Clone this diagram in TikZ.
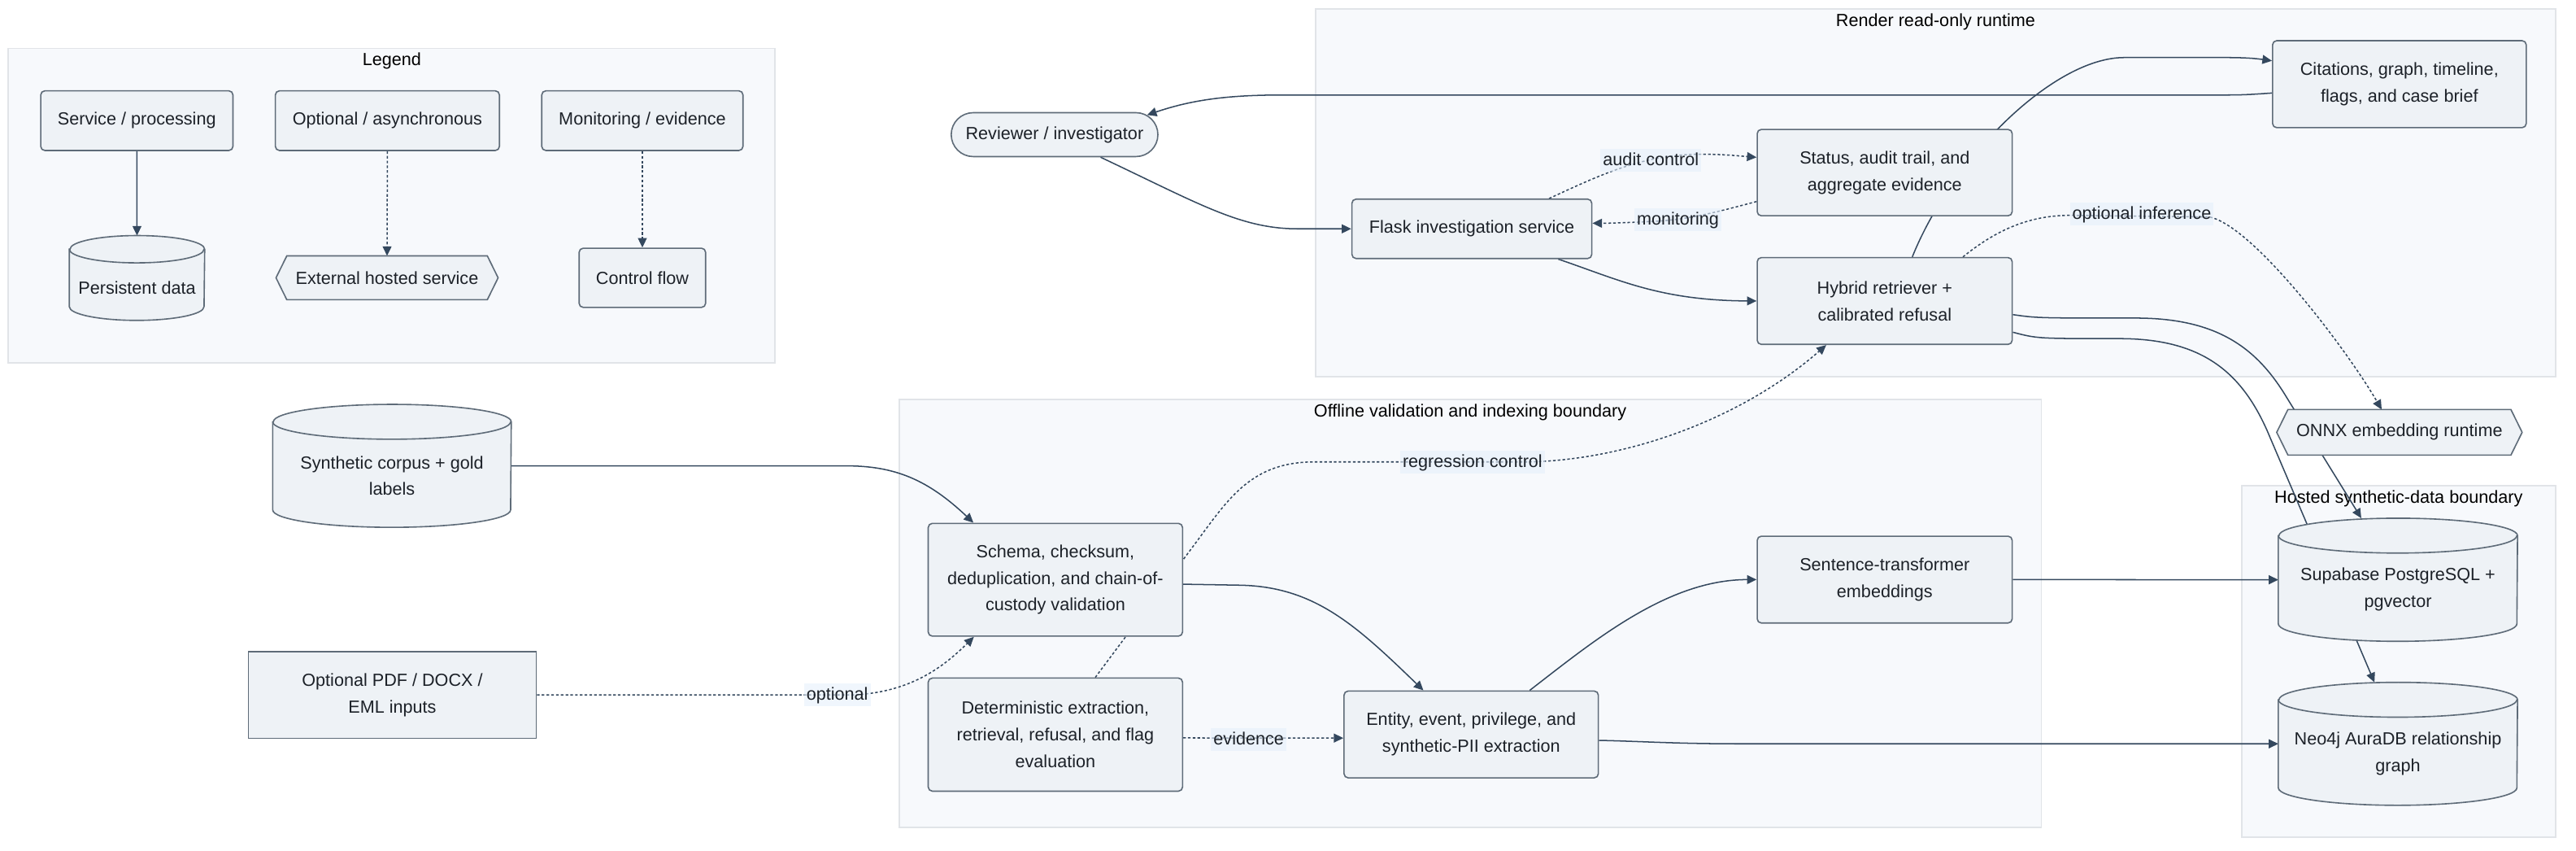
\documentclass[tikz,border=0pt]{standalone}
\usepackage{fontspec}
\setmainfont{Liberation Sans}
\usetikzlibrary{arrows.meta,shapes.misc,calc}
\definecolor{nodefill}{HTML}{EEF2F6}
\definecolor{nodestroke}{HTML}{5E6B78}
\definecolor{edgecol}{HTML}{34485E}
\definecolor{clusterfill}{HTML}{F7F9FC}
\definecolor{clusterstroke}{HTML}{E1E4E8}
\definecolor{labelbg}{HTML}{E6F0FB}
\definecolor{txtcol}{HTML}{1C2128}
\pgfdeclarelayer{bglayer}
\pgfdeclarelayer{edgelayer}
\pgfsetlayers{bglayer,edgelayer,main}
\tikzset{
  nodetext/.style={align=center, text=txtcol, font=\fontsize{10.7pt}{16.2pt}\selectfont, inner sep=0pt},
  box/.style={nodetext, rectangle, rounded corners=2.5pt, draw=nodestroke, fill=nodefill, line width=0.8pt},
  sqbox/.style={nodetext, rectangle, draw=nodestroke, fill=nodefill, line width=0.8pt},
  pill/.style={nodetext, rounded rectangle, draw=nodestroke, fill=nodefill, line width=0.8pt},
  cylshape/.style={draw=nodestroke, fill=nodefill, line width=0.8pt},
  cylline/.style={draw=nodestroke, line width=0.8pt},
  hexshape/.style={draw=nodestroke, fill=nodefill, line width=0.8pt},
  conn/.style={draw=edgecol, line width=0.75pt},
  dotconn/.style={conn, dash pattern=on 1.6pt off 1.3pt},
  arr/.style={-{Triangle[length=5.8pt,width=5.4pt]}},
  elabel/.style={nodetext, fill=labelbg, fill opacity=0.6, text opacity=1, inner xsep=1.5pt, inner ysep=1pt, text height=9.2pt, text depth=2.6pt},
  cluster/.style={draw=clusterstroke, fill=clusterfill, line width=0.8pt},
  ctitle/.style={nodetext, text=black, text height=9.2pt, text depth=2.6pt},
}
\newcommand\dbcyl[7]{%
  \node[inner sep=0pt, minimum width=#4pt, minimum height=#5pt] (#1) at (#2,#3) {};
  \path[cylshape] ([yshift=-#6pt]#1.north west) -- ([yshift=#6pt]#1.south west)
     arc[start angle=180, end angle=360, x radius=#4pt/2, y radius=#6pt]
     -- ([yshift=-#6pt]#1.north east)
     arc[start angle=0, end angle=180, x radius=#4pt/2, y radius=#6pt] -- cycle;
  \draw[cylline] ([yshift=-#6pt]#1.north west) arc[start angle=180, end angle=360, x radius=#4pt/2, y radius=#6pt];
  \node[nodetext] (#1-text) at ([yshift=-6pt]#1.center) {#7};
}
\newcommand\hexnode[6]{%
  \node[inner sep=0pt, minimum width=#4pt, minimum height=#5pt] (#1) at (#2,#3) {};
  \path[hexshape] (#1.west) -- ([xshift=#5pt/4]#1.north west) -- ([xshift=-#5pt/4]#1.north east)
     -- (#1.east) -- ([xshift=-#5pt/4]#1.south east) -- ([xshift=#5pt/4]#1.south west) -- cycle;
  \node[nodetext] (#1-text) at (#1.center) {#6};
}
\begin{document}
\begin{tikzpicture}[x=1pt,y=1pt]
\useasboundingbox (0,0) rectangle (1568,-517.7);

% clusters
\begin{pgfonlayer}{bglayer}
\draw[cluster] (5.1,-29.4) rectangle (471.8,-220.8);
\node[ctitle] (t-legend) at (238.5,-36.3) {Legend};
\draw[cluster] (800.9,-5.3) rectangle (1555.5,-229.3);
\node[ctitle] (t-render) at (1178.2,-12.9) {Render read-only runtime};
\draw[cluster] (547.3,-243) rectangle (1242.5,-503.5);
\node[ctitle] (t-offline) at (894.9,-250.3) {Offline validation and indexing boundary};
\draw[cluster] (1364.7,-295.6) rectangle (1555.5,-509.3);
\node[ctitle] (t-hosted) at (1460,-303) {Hosted synthetic-data boundary};
\end{pgfonlayer}

% legend nodes
\node[box, minimum width=117pt, minimum height=36.3pt] (svc) at (83.3,-73.4) {Service / processing};
\node[box, minimum width=136.4pt, minimum height=36.3pt] (opt) at (235.8,-73.4) {Optional / asynchronous};
\node[box, minimum width=122.5pt, minimum height=36.3pt] (mon) at (391,-73.4) {Monitoring / evidence};
\dbcyl{persist}{83.4}{-169.1}{82}{51.2}{8.3}{Persistent data}
\hexnode{ext}{235.6}{-169}{134.8}{26.3}{External hosted service}
\node[box, minimum width=77pt, minimum height=36pt] (ctrl) at (391,-169) {Control flow};

% runtime nodes
\node[pill, minimum width=125.8pt, minimum height=26.7pt] (rev) at (641.9,-81.9) {Reviewer / investigator};
\node[box, minimum width=146pt, minimum height=36.1pt] (flask) at (895.9,-139.2) {Flask investigation service};
\node[box, minimum width=155.2pt, minimum height=52.5pt] (status) at (1147.2,-105) {Status, audit trail, and\\aggregate evidence};
\node[box, minimum width=155.2pt, minimum height=52.8pt] (hybrid) at (1147.2,-183.1) {Hybrid retriever +\\calibrated refusal};
\node[box, minimum width=154.4pt, minimum height=52.9pt] (cite) at (1460.5,-51.2) {Citations, graph, timeline,\\flags, and case brief};
\hexnode{onnx}{1460.5}{-263}{149}{27.3}{ONNX embedding runtime}

% hosted
\dbcyl{supa}{1459.6}{-352.7}{145.2}{74.5}{10.6}{Supabase PostgreSQL +\\pgvector}
\dbcyl{neo}{1459.6}{-452.5}{145.2}{74.4}{10.6}{Neo4j AuraDB relationship\\graph}

% inputs
\dbcyl{corpus}{238.6}{-283.4}{144.8}{74.4}{10.6}{Synthetic corpus + gold\\labels}
\node[sqbox, minimum width=175.3pt, minimum height=52.8pt] (pdf) at (238.8,-422.7) {Optional PDF / DOCX /\\EML inputs};

% offline
\node[box, minimum width=154.8pt, minimum height=68.6pt] (schema) at (642.4,-352.7) {Schema, checksum,\\deduplication, and chain-of-\\custody validation};
\node[box, minimum width=154.8pt, minimum height=68.8pt] (determ) at (642.4,-446.9) {Deterministic extraction,\\retrieval, refusal, and flag\\evaluation};
\node[box, minimum width=154.8pt, minimum height=52.8pt] (entity) at (895.5,-446.8) {Entity, event, privilege, and\\synthetic-PII extraction};
\node[box, minimum width=155.2pt, minimum height=52.8pt] (sent) at (1147.2,-352.6) {Sentence-transformer\\embeddings};

% connectors
\begin{pgfonlayer}{edgelayer}
\draw[conn,arr] (svc.south) -- (persist.north);
\draw[dotconn,arr] (opt.south) -- (ext.north);
\draw[dotconn,arr] (mon.south) -- (ctrl.north);

\draw[conn,arr] ([xshift=28pt]rev.south) .. controls (730,-124) and (755,-139.2) .. (790,-139.2) -- (flask.west);
\draw[conn,arr] ([yshift=-5.4pt]cite.west) .. controls (1365,-57.8) .. (1345,-57.8) -- (780,-57.8) .. controls (742,-57.8) and (722,-62) .. (rev.12);
\draw[dotconn,arr] ([xshift=47pt]flask.north) .. controls (975,-106) and (1000,-94) .. (1035,-93.8) .. controls (1050,-93.8) and (1060,-95) .. ([yshift=9.3pt]status.west);
\draw[dotconn,arr] ([yshift=-17.6pt]status.west) .. controls (1045,-129) and (1030,-133) .. (1010,-134.5) .. controls (990,-135.5) and (980,-135.8) .. ([yshift=3.4pt]flask.east);
\draw[conn,arr] ([xshift=52.6pt]flask.south) .. controls (985,-170) and (1010,-182.8) .. (hybrid.west);
\draw[conn,arr] ([xshift=16.8pt]hybrid.north) .. controls (1188,-96.4) and (1250,-35) .. (1293,-35) -- (1355,-35) .. controls (1370,-35) and (1376,-36) .. ([yshift=14.2pt]cite.west);
\draw[dotconn,arr] ([xshift=47.6pt]hybrid.north) .. controls (1215,-140) and (1235,-131) .. (1260,-131) -- (1345,-132) .. controls (1372,-138) and (1428,-212) .. ([xshift=-10.8pt]onnx.north);
\draw[conn,arr] ([yshift=-8.3pt]hybrid.east) .. controls (1240,-193.5) .. (1300,-193.5) .. controls (1350,-193.5) and (1374,-212) .. (1392,-242) -- ([xshift=-22.3pt]supa.north);
\draw[conn,arr] ([yshift=-19pt]hybrid.east) .. controls (1240,-206) .. (1290,-206) .. controls (1340,-206) and (1364,-226) .. (1380,-262) -- ([xshift=-14.3pt]neo.north);

\draw[conn,arr] (corpus.east) -- (515,-283.4) .. controls (545,-283.4) and (565,-292) .. ([xshift=-49.9pt]schema.north);
\draw[dotconn,arr] (pdf.east) -- (520,-422.7) .. controls (555,-421) and (575,-405) .. ([xshift=-49.6pt]schema.south);
\draw[conn,arr] ([yshift=-2.7pt]schema.east) -- (755,-356) .. controls (800,-357) and (825,-380) .. ([xshift=-29.1pt]entity.north);
\draw[conn,arr] ([xshift=35.6pt]entity.north) .. controls (970,-390) and (1015,-352.6) .. (sent.west);
\draw[conn,arr] (sent.east) -- (supa.west);
\draw[dotconn,arr] ([yshift=-2pt]determ.east) -- ([yshift=-2.2pt]entity.west);
\draw[dotconn,arr] ([xshift=24.3pt]determ.north) -- (728,-330) .. controls (748,-303) and (762,-281) .. (800,-281) -- (930,-281) .. controls (990,-280) and (1060,-255) .. ([xshift=-35.6pt]hybrid.south);
\draw[conn,arr] ([yshift=-3.6pt]entity.east) .. controls (1000,-451) and (1020,-452.5) .. (1060,-452.5) -- (neo.west);
\end{pgfonlayer}

% edge labels
\node[elabel] (lbl-audit) at (1004.9,-97.4) {audit control};
\node[elabel] (lbl-mon) at (1021.3,-133.7) {monitoring};
\node[elabel] (lbl-inf) at (1303.7,-130.2) {optional inference};
\node[elabel] (lbl-reg) at (896.3,-281) {regression control};
\node[elabel] (lbl-opt) at (509.6,-422.8) {optional};
\node[elabel] (lbl-ev) at (760.1,-449.8) {evidence};
\end{tikzpicture}
\end{document}
